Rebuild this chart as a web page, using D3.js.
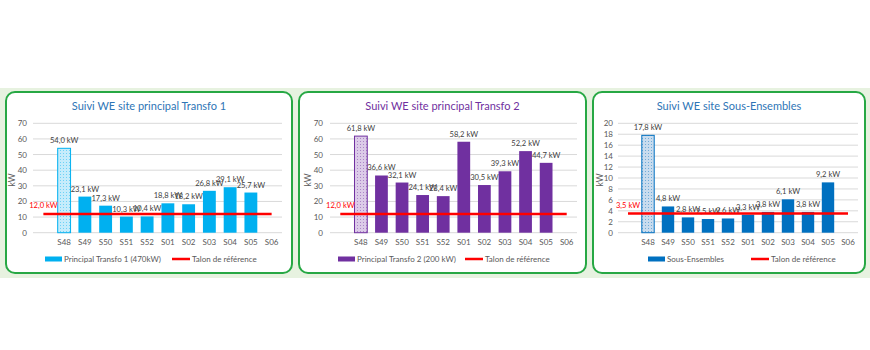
<!DOCTYPE html>
<html>
<head>
<meta charset="utf-8">
<script src="https://cdn.jsdelivr.net/npm/d3@7"></script>
<style>
  body { margin: 0; background: #fff; }
  svg { display: block; font-family: Lato, "Open Sans", sans-serif; }
</style>
</head>
<body>
<svg id="chart" width="870" height="350"></svg>
<script>
// weeks; the blank first slot is where the talon label sits
const weeks = ['', 'S48', 'S49', 'S50', 'S51', 'S52', 'S01', 'S02', 'S03', 'S04', 'S05', 'S06'];

const transfo1 = [null, 54.0, 23.1, 17.3, 10.3, 10.4, 18.8, 18.2, 26.8, 29.1, 25.7, null];
const transfo2 = [null, 61.8, 36.6, 32.1, 24.1, 23.4, 58.2, 30.5, 39.3, 52.2, 44.7, null];
const sousEns  = [null, 17.8, 4.8, 2.8, 2.5, 2.6, 3.3, 3.8, 6.1, 3.8, 9.2, null];

const talons = [12.0, 12.0, 3.5];
const yMax = [70, 70, 20];
const yStep = [10, 10, 2];
const titles = ['Suivi WE site principal Transfo 1', 'Suivi WE site principal Transfo 2', 'Suivi WE site Sous-Ensembles'];
const seriesNames = ['Principal Transfo 1 (470kW)', 'Principal Transfo 2 (200 kW)', 'Sous-Ensembles'];

const panels = [
  { x0: 6,   x1: 292, plot: [33, 282],  tickX: 27,  kwX: 12,  title: '#2e75b6', bar: '#00b0f0', hatch: '#c6ecfb', lgSw: 45,  lgRed: 172, values: transfo1 },
  { x0: 299, x1: 586, plot: [330, 577], tickX: 323, kwX: 308, title: '#7030a0', bar: '#7030a0', hatch: '#dccbe8', lgSw: 338, lgRed: 465, values: transfo2 },
  { x0: 593, x1: 865, plot: [618, 858], tickX: 613, kwX: 600, title: '#2e75b6', bar: '#0070c0', hatch: '#c9dcee', lgSw: 648, lgRed: 751, values: sousEns },
];

const svg = d3.select('#chart');
const fmt = v => v.toFixed(1).replace('.', ',') + ' kW';

svg.append('rect').attr('x', 0).attr('y', 88).attr('width', 870).attr('height', 190).attr('fill', '#e7f2e0');

const defs = svg.append('defs');

panels.forEach((p, i) => {
  // hatched fill for the first week
  const pat = defs.append('pattern').attr('id', 'hatch' + i)
    .attr('width', 3).attr('height', 3).attr('patternUnits', 'userSpaceOnUse');
  pat.append('rect').attr('width', 3).attr('height', 3).attr('fill', p.hatch);
  pat.append('rect').attr('width', 1).attr('height', 1).attr('fill', p.bar).attr('opacity', 0.45);

  const g = svg.append('g');
  g.append('rect').attr('x', p.x0).attr('y', 92).attr('width', p.x1 - p.x0).attr('height', 181)
    .attr('rx', 9).attr('fill', '#fff').attr('stroke', '#27a844').attr('stroke-width', 2);

  g.append('text').attr('x', (p.x0 + p.x1) / 2).attr('y', 110).attr('text-anchor', 'middle')
    .attr('font-size', 11).attr('fill', p.title).text(titles[i]);

  const x = d3.scaleBand().domain(weeks).range(p.plot).paddingInner(0.38).paddingOuter(0.19);
  const y = d3.scaleLinear().domain([0, yMax[i]]).range([232.7, 123.3]);

  const ticks = d3.range(0, yMax[i] + 0.001, yStep[i]);
  g.selectAll('.grid').data(ticks).enter().append('line')
    .attr('x1', p.plot[0]).attr('x2', p.plot[1])
    .attr('y1', d => y(d)).attr('y2', d => y(d))
    .attr('stroke', '#d9d9d9').attr('stroke-width', 1);
  g.selectAll('.yt').data(ticks).enter().append('text')
    .attr('x', p.tickX).attr('y', d => y(d) + 3).attr('text-anchor', 'end')
    .attr('font-size', 8).attr('fill', '#595959').text(d => d);

  g.append('text').attr('transform', `translate(${p.kwX + 3},180) rotate(-90)`)
    .attr('text-anchor', 'middle').attr('font-size', 8.5).attr('fill', '#595959').text('kW');

  g.selectAll('.xt').data(weeks.slice(1)).enter().append('text')
    .attr('x', d => x(d) + x.bandwidth() / 2).attr('y', 245).attr('text-anchor', 'middle')
    .attr('font-size', 8).attr('fill', '#595959').text(d => d);

  const pts = weeks.map((w, k) => ({ w, v: p.values[k], first: k === 1 })).filter(d => d.v != null);
  g.selectAll('.bar').data(pts).enter().append('rect')
    .attr('x', d => x(d.w)).attr('width', x.bandwidth())
    .attr('y', d => y(d.v)).attr('height', d => y(0) - y(d.v))
    .attr('fill', d => d.first ? `url(#hatch${i})` : p.bar)
    .attr('stroke', d => d.first ? p.bar : 'none').attr('stroke-width', 1);
  g.selectAll('.lbl').data(pts).enter().append('text')
    .attr('x', d => x(d.w) + x.bandwidth() / 2).attr('y', d => y(d.v) - 5)
    .attr('text-anchor', 'middle').attr('font-size', 7.6).attr('fill', '#404040').text(d => fmt(d.v));

  // talon de reference line, label on the first (blank) slot
  const ref = weeks.map(w => ({ w, v: talons[i] }));
  g.append('path').datum(ref)
    .attr('d', d3.line().x(d => x(d.w) + x.bandwidth() / 2).y(d => y(d.v)))
    .attr('stroke', '#ff0000').attr('stroke-width', 2.5).attr('fill', 'none');
  g.append('text').attr('x', x(weeks[0]) + x.bandwidth() / 2).attr('y', y(talons[i]) - 6)
    .attr('text-anchor', 'middle').attr('font-size', 7.6).attr('fill', '#ff0000').text(fmt(talons[i]));

  // legend
  g.append('rect').attr('x', p.lgSw).attr('y', 256.5).attr('width', 17).attr('height', 5).attr('fill', p.bar);
  g.append('text').attr('x', p.lgSw + 19).attr('y', 262).attr('font-size', 8).attr('fill', '#595959').text(seriesNames[i]);
  g.append('line').attr('x1', p.lgRed).attr('x2', p.lgRed + 18).attr('y1', 259).attr('y2', 259)
    .attr('stroke', '#ff0000').attr('stroke-width', 2.5);
  g.append('text').attr('x', p.lgRed + 20).attr('y', 262).attr('font-size', 8).attr('fill', '#595959').text('Talon de référence');
});
</script>
</body>
</html>
